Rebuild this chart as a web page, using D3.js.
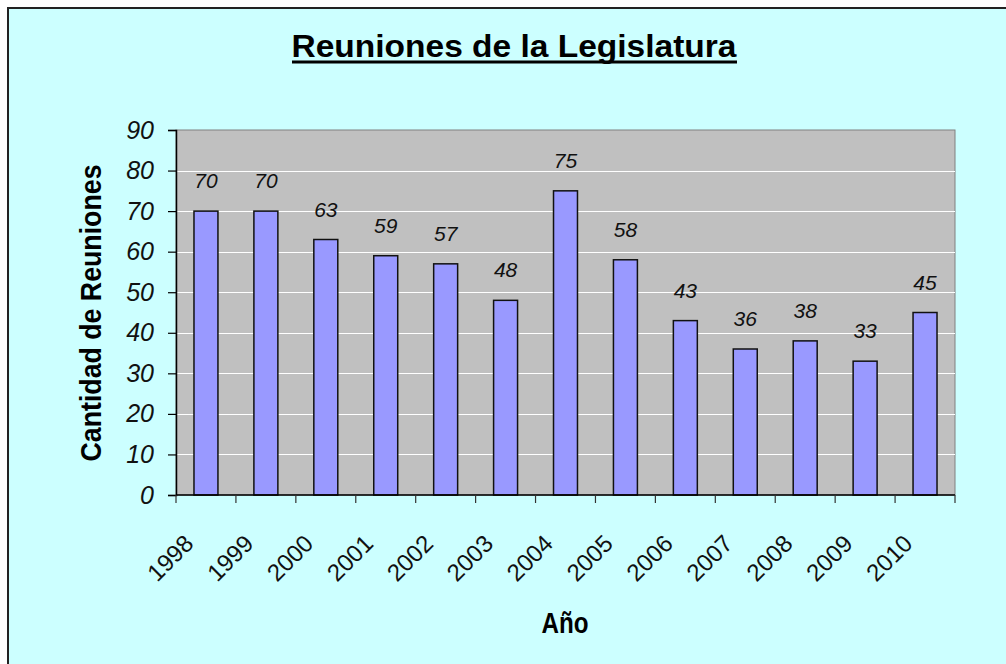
<!DOCTYPE html>
<meta charset="utf-8">
<script src="https://d3js.org/d3.v7.min.js"></script>
<style>
    body { margin: 0; background: #fff; }
    text { font-family: "Liberation Sans", Arial, sans-serif; }
</style>
<body>
<svg width="1006" height="664"></svg>
<script>
    // data
    var years  = ['1998','1999','2000','2001','2002','2003','2004','2005','2006','2007','2008','2009','2010'];
    var values = [70, 70, 63, 59, 57, 48, 75, 58, 43, 36, 38, 33, 45];
    var yTicks = [0, 10, 20, 30, 40, 50, 60, 70, 80, 90];

    var svg = d3.select('svg');
    var pLeft = 176, pRight = 955, pTop = 130, pBottom = 495;

    // chart frame
    svg.append('rect')
        .attr('x', 8).attr('y', 8).attr('width', 1010).attr('height', 670)
        .attr('fill', '#ccffff').attr('stroke', '#222').attr('stroke-width', 2);

    var x = d3.scaleBand().domain(years).range([pLeft, pRight]).paddingInner(0).paddingOuter(0);
    var y = d3.scaleLinear().domain([0, 90]).range([pBottom, pTop]);

    // plot area
    svg.append('rect')
        .attr('x', pLeft).attr('y', pTop).attr('width', pRight - pLeft).attr('height', pBottom - pTop)
        .attr('fill', '#c0c0c0').attr('stroke', '#808080').attr('stroke-width', 1);

    svg.selectAll('line.grid').data(yTicks.slice(1, -1)).enter().append('line')
        .attr('class', 'grid')
        .attr('x1', pLeft).attr('x2', pRight)
        .attr('y1', function(d){ return Math.round(y(d)) + 0.5; })
        .attr('y2', function(d){ return Math.round(y(d)) + 0.5; })
        .attr('stroke', '#fff').attr('stroke-width', 1);

    // bars
    var bw = x.bandwidth() * 0.4;
    svg.selectAll('rect.bar').data(values).enter().append('rect')
        .attr('class', 'bar')
        .attr('x', function(d, i){ return x(years[i]) + (x.bandwidth() - bw) / 2; })
        .attr('y', function(d){ return y(d); })
        .attr('width', bw)
        .attr('height', function(d){ return pBottom - y(d); })
        .attr('fill', '#9999ff').attr('stroke', '#111').attr('stroke-width', 1.5);

    // value labels
    svg.selectAll('text.val').data(values).enter().append('text')
        .attr('class', 'val')
        .attr('x', function(d, i){ return x(years[i]) + x.bandwidth() / 2; })
        .attr('y', function(d){ return y(d) - 23; })
        .attr('text-anchor', 'middle')
        .attr('font-size', 21).attr('font-style', 'italic').attr('fill', '#111')
        .text(function(d){ return d; });

    // y axis
    var yAxis = svg.append('g')
        .attr('transform', 'translate(' + pLeft + ',0)')
        .call(d3.axisLeft(y).tickValues(yTicks).tickSize(8).tickPadding(14));
    yAxis.select('.domain').attr('stroke', '#000').attr('stroke-width', 1.5);
    yAxis.selectAll('.tick line').attr('stroke', '#000').attr('stroke-width', 1.2);
    yAxis.selectAll('.tick text')
        .attr('font-family', '"Liberation Sans", Arial, sans-serif')
        .attr('font-size', 25).attr('font-style', 'italic').attr('fill', '#111');

    // x axis: ticks at band boundaries
    var xAxisG = svg.append('g');
    xAxisG.append('line')
        .attr('x1', pLeft).attr('x2', pRight).attr('y1', pBottom).attr('y2', pBottom)
        .attr('stroke', '#000').attr('stroke-width', 1.5);
    var bounds = years.map(function(d){ return x(d); }).concat([pRight]);
    xAxisG.selectAll('line.xt').data(bounds).enter().append('line')
        .attr('class', 'xt')
        .attr('x1', function(d){ return d; }).attr('x2', function(d){ return d; })
        .attr('y1', pBottom).attr('y2', pBottom + 8)
        .attr('stroke', '#333').attr('stroke-width', 1.2);
    xAxisG.selectAll('text.xl').data(years).enter().append('text')
        .attr('class', 'xl')
        .attr('transform', function(d){
            return 'translate(' + (x(d) + x.bandwidth() / 2 - 11) + ',' + 545 + ') rotate(-45)';
        })
        .attr('text-anchor', 'end')
        .attr('font-size', 24).attr('fill', '#111')
        .text(function(d){ return d; });

    // titles
    svg.append('text')
        .attr('x', 514).attr('y', 57)
        .attr('text-anchor', 'middle')
        .attr('font-size', 31).attr('font-weight', 'bold')
        .attr('textLength', 445).attr('lengthAdjust', 'spacingAndGlyphs')
        .text('Reuniones de la Legislatura');
    svg.append('line')
        .attr('x1', 292).attr('x2', 737).attr('y1', 62).attr('y2', 62)
        .attr('stroke', '#000').attr('stroke-width', 3);

    svg.append('text')
        .attr('transform', 'translate(101,313) rotate(-90)')
        .attr('text-anchor', 'middle')
        .attr('font-size', 30).attr('font-weight', 'bold')
        .attr('textLength', 297).attr('lengthAdjust', 'spacingAndGlyphs')
        .text('Cantidad de Reuniones');

    svg.append('text')
        .attr('x', 565).attr('y', 633)
        .attr('text-anchor', 'middle')
        .attr('font-size', 29).attr('font-weight', 'bold')
        .attr('textLength', 47).attr('lengthAdjust', 'spacingAndGlyphs')
        .text('Año');
</script>
</body>
